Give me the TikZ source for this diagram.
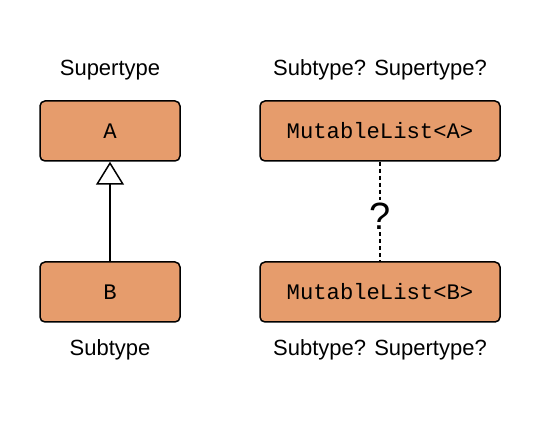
\documentclass[tikz,border=0pt]{standalone}
\usepackage{fontspec}
\setmainfont{Liberation Sans}
\setmonofont{Liberation Mono}
\usetikzlibrary{arrows.meta}
\definecolor{boxfill}{RGB}{230,156,108}
\begin{document}
\begin{tikzpicture}[x=1pt,y=1pt,
	box/.style={draw,line width=1.5pt,rounded corners=5pt,fill=boxfill,minimum height=60pt,font=\fontsize{22.2}{25}\selectfont\ttfamily},
	lbl/.style={font=\fontsize{22}{25}\selectfont}]
	\useasboundingbox (0,0) rectangle (540,422);
	% left pair
	\node[box,minimum width=140pt] (a) at (110,291) {A};
	\node[box,minimum width=140pt] (b) at (110,130) {B};
	\node[lbl] (supA) at (110,352) {Supertype};
	\node[lbl] (subB) at (110,72) {Subtype};
	\draw[line width=1.5pt,-{Triangle[open,length=23pt,width=28pt,line width=1.5pt]}] (b)--(a);
	% right pair
	\node[box,minimum width=240pt] (ma) at (380,291) {MutableList<A>};
	\node[box,minimum width=240pt] (mb) at (380,130) {MutableList<B>};
	\node[lbl] (qa) at (380,352) {Subtype? Supertype?};
	\node[lbl] (qb) at (380,72) {Subtype? Supertype?};
	\node[font=\fontsize{38}{40}\selectfont,inner sep=3pt] (q) at (380,206) {?};
	\draw[line width=1.5pt,dash pattern=on 4pt off 3pt] (ma)--(q) (q)--(mb);
\end{tikzpicture}
\end{document}
